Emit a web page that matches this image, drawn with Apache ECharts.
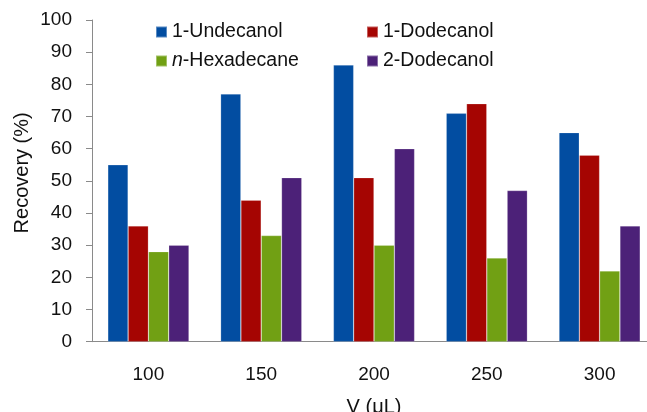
<!DOCTYPE html>
<html><head><meta charset="utf-8">
<script src="https://cdn.jsdelivr.net/npm/echarts@6/dist/echarts.min.js"></script>
<style>html,body{margin:0;padding:0;background:#fff}#c{width:647px;height:412px}</style>
</head><body><div id="c"></div>
<script>
const categories = ['100', '150', '200', '250', '300'];
const undecanol1 = [55, 77, 86, 71, 65];
const dodecanol1 = [36, 44, 51, 74, 58];
const hexadecane = [28, 33, 30, 26, 22];
const dodecanol2 = [30, 51, 60, 47, 36];
const yTicks = {min: 0, max: 100, interval: 10};

const font = "'Liberation Sans', Arial, Helvetica, sans-serif";
const colors = ['#024DA1', '#A50502', '#71A014', '#4C2178'];
const chart = echarts.init(document.getElementById('c'));
const axisColor = '#8a8a8a';
function bar(name, data, color) {
  return {name, type: 'bar', data, barGap: '0%', barCategoryGap: '28%',
    itemStyle: {color, borderColor: 'rgba(255,255,255,0.35)', borderWidth: 0.6}};
}
const legendCommon = {
  itemWidth: 11, itemHeight: 11, itemGap: 10, icon: 'rect', left: 150,
  textStyle: {fontFamily: font, fontSize: 19.5, color: '#111', width: 184, lineHeight: 20,
    rich: {i: {fontStyle: 'italic', fontFamily: font, fontSize: 19.5, color: '#111'}}},
  formatter: n => n === 'n-Hexadecane' ? '{i|n}-Hexadecane' : n
};
chart.setOption({
  animation: false,
  color: colors,
  grid: {left: 92, top: 20, width: 564, height: 321.7, containLabel: false, outerBoundsMode: 'none'},
  legend: [
    Object.assign({}, legendCommon, {top: 17, data: ['1-Undecanol', '1-Dodecanol']}),
    Object.assign({}, legendCommon, {top: 46, data: ['n-Hexadecane', '2-Dodecanol']})
  ],
  xAxis: {
    type: 'category', data: categories,
    name: 'V (μL)', nameLocation: 'middle', nameGap: 56, nameMoveOverlap: false,
    nameTextStyle: {fontFamily: font, fontSize: 20, color: '#111'},
    axisLine: {lineStyle: {color: axisColor, width: 1}},
    axisTick: {length: 6, lineStyle: {color: axisColor}},
    axisLabel: {fontFamily: font, fontSize: 19, color: '#111', margin: 24}
  },
  yAxis: {
    type: 'value', min: yTicks.min, max: yTicks.max, interval: yTicks.interval,
    name: 'Recovery (%)', nameLocation: 'middle', nameGap: 60, nameMoveOverlap: false,
    nameTextStyle: {fontFamily: font, fontSize: 20, color: '#111', padding: [0, 0, 0, 16]},
    splitLine: {show: false},
    axisLine: {show: true, lineStyle: {color: axisColor, width: 1}},
    axisTick: {show: true, length: 6, lineStyle: {color: axisColor}},
    axisLabel: {fontFamily: font, fontSize: 19, color: '#111', margin: 20}
  },
  series: [
    bar('1-Undecanol', undecanol1, colors[0]),
    bar('1-Dodecanol', dodecanol1, colors[1]),
    bar('n-Hexadecane', hexadecane, colors[2]),
    bar('2-Dodecanol', dodecanol2, colors[3])
  ]
});
</script></body></html>
